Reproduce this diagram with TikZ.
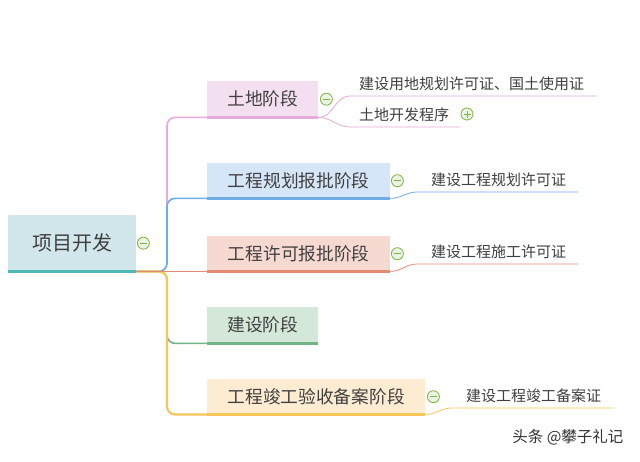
\documentclass[tikz,border=0pt]{standalone}
\usepackage{fontspec}
\setmainfont{Noto Sans CJK SC}
\usetikzlibrary{calc}
\definecolor{txt}{HTML}{404040}
\definecolor{rootfill}{HTML}{D2E7EB}
\definecolor{rootline}{HTML}{4DB8B8}
\definecolor{pinkfill}{HTML}{F3DFF0}
\definecolor{pinkline}{HTML}{E6AADB}
\definecolor{bluefill}{HTML}{D5E6F8}
\definecolor{blueline}{HTML}{70ACE8}
\definecolor{redfill}{HTML}{F6D9D0}
\definecolor{redline}{HTML}{E38A72}
\definecolor{greenfill}{HTML}{D4E8DA}
\definecolor{greenline}{HTML}{70B585}
\definecolor{yelfill}{HTML}{FDEBD2}
\definecolor{yelline}{HTML}{F8C558}
\definecolor{togg}{HTML}{7CB342}
\tikzset{
  box/.style={anchor=north west, inner sep=0pt, text=txt, font=\fontsize{17.7}{17.7}\selectfont},
  childnode/.style={anchor=south west, inner ysep=5pt, text=txt, align=left, font=\fontsize{15}{15}\selectfont},
  mainconn/.style={line width=1.6pt, rounded corners=8pt},
  subconn/.style={line width=0.8pt},
  bar/.style={line width=3pt},
}
\newcommand{\togminus}[1]{%
  \draw[togg, fill=togg!15, line width=0.8pt] (#1) circle (6pt);
  \draw[togg, line width=1pt] ($(#1)+(-3.5pt,0)$) -- ($(#1)+(3.5pt,0)$);}
\newcommand{\togplus}[1]{%
  \draw[togg, fill=togg!15, line width=0.8pt] (#1) circle (6pt);
  \draw[togg, line width=1pt] ($(#1)+(-3.5pt,0)$) -- ($(#1)+(3.5pt,0)$);
  \draw[togg, line width=1pt] ($(#1)+(0,-3.5pt)$) -- ($(#1)+(0,3.5pt)$);}
\begin{document}
\begin{tikzpicture}[x=1pt,y=-1pt]
\useasboundingbox[fill=white] (0,0) rectangle (640,461);

% root
\node[box, fill=rootfill, minimum width=128pt, minimum height=56pt, font=\fontsize{20}{20}\selectfont] (root) at (8,215) {项目开发};
% level 1
\node[box, fill=pinkfill, minimum width=111pt, minimum height=36pt] (n1) at (207,81) {土地阶段};
\node[box, fill=bluefill, minimum width=183pt, minimum height=35pt] (n2) at (207,163) {工程规划报批阶段};
\node[box, fill=redfill, minimum width=183pt, minimum height=35pt] (n3) at (207,236) {工程许可报批阶段};
\node[box, fill=greenfill, minimum width=111pt, minimum height=36pt] (n4) at (207,307) {建设阶段};
\node[box, fill=yelfill, minimum width=218pt, minimum height=35pt] (n5) at (207,379) {工程竣工验收备案阶段};

% main connectors
\draw[mainconn, pinkline] (root.south east) -| ([xshift=-40pt]n1.south west) -- (n1.south west);
\draw[mainconn, blueline] (root.south east) -| ([xshift=-40pt]n2.south west) -- (n2.south west);
\draw[mainconn, greenline] (root.south east) -| ([xshift=-40pt]n4.south west) -- (n4.south west);
\draw[mainconn, yelline, line width=2.2pt] (root.south east) -| ([xshift=-40pt]n5.south west) -- (n5.south west);
\draw[mainconn, redline] (root.south east) -- (n3.south west);

% bottom bars
\draw[bar, rootline] (root.south west) -- (root.south east);
\draw[bar, pinkline] (n1.south west) -- (n1.south east);
\draw[bar, blueline] (n2.south west) -- (n2.south east);
\draw[bar, redline] (n3.south west) -- (n3.south east);
\draw[bar, greenline] (n4.south west) -- (n4.south east);
\draw[bar, yelline] (n5.south west) -- (n5.south east);

% children
\node[childnode, text width=229pt, inner xsep=9pt] (c11) at (350,96) {建设用地规划许可证、国土使用证};
\node[childnode, text width=92pt, inner xsep=9pt] (c12) at (350,127) {土地开发程序};
\node[childnode, text width=133pt, inner xsep=14pt] (c2) at (417,192) {建设工程规划许可证};
\node[childnode, text width=133pt, inner xsep=14pt] (c3) at (417,264) {建设工程施工许可证};
\node[childnode, text width=134pt, inner xsep=14pt] (c5) at (452,408) {建设工程竣工备案证};

% child connectors and underlines
\draw[subconn, pinkline] (n1.south east) to[out=0,in=180] (c11.south west) -- (c11.south east);
\draw[subconn, pinkline] (n1.south east) to[out=0,in=180] (c12.south west) -- (c12.south east);
\draw[subconn, blueline] (n2.south east) to[out=0,in=180] (c2.south west) -- (c2.south east);
\draw[subconn, redline] (n3.south east) to[out=0,in=180] (c3.south west) -- (c3.south east);
\draw[subconn, yelline] (n5.south east) to[out=0,in=180] (c5.south west) -- (c5.south east);

% toggles
\coordinate (t0) at ([xshift=7pt]root.east);
\togminus{t0}
\coordinate (t1) at ([xshift=8pt]n1.east);
\togminus{t1}
\coordinate (t2) at ([xshift=7pt]n2.east);
\togminus{t2}
\coordinate (t3) at ([xshift=7pt]n3.east);
\togminus{t3}
\coordinate (t5) at ([xshift=8pt]n5.east);
\togminus{t5}
\coordinate (t12) at (467,114);
\togplus{t12}

% watermark
\node[text=black!80, font=\fontsize{15.5}{15.5}\selectfont, anchor=east] (wm) at (627,437) {头条 @攀子礼记};
\end{tikzpicture}
\end{document}
